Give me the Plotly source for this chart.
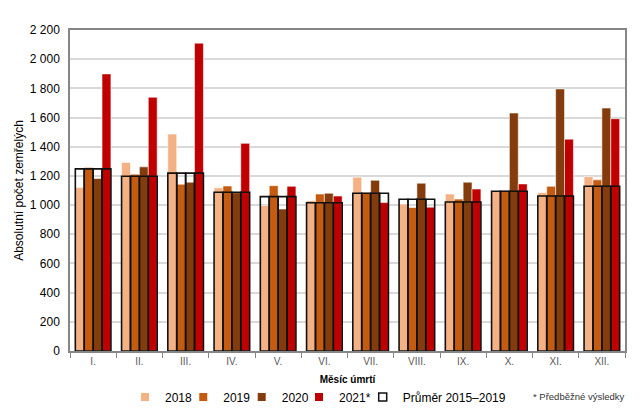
import plotly.graph_objects as go

months = ["I.", "II.", "III.", "IV.", "V.", "VI.", "VII.", "VIII.", "IX.", "X.", "XI.", "XII."]
v2018 = [1120, 1292, 1487, 1118, 998, 1030, 1191, 1007, 1076, 1095, 1085, 1195]
v2019 = [1258, 1212, 1143, 1131, 1133, 1076, 1085, 984, 1041, 1100, 1129, 1173]
v2020 = [1182, 1262, 1157, 1085, 973, 1081, 1170, 1150, 1157, 1631, 1796, 1665]
v2021 = [1899, 1739, 2110, 1423, 1129, 1062, 1017, 986, 1110, 1145, 1452, 1592]
avg_2015_2019 = [1248, 1198, 1219, 1088, 1058, 1016, 1081, 1040, 1021, 1095, 1062, 1129]

series_names = ["2018", "2019", "2020", "2021*"]
avg_name = "Průměr 2015–2019"
y_ticks = [0, 200, 400, 600, 800, 1000, 1200, 1400, 1600, 1800, 2000, 2200]
y_tick_labels = ["0", "200", "400", "600", "800", "1 000", "1 200", "1 400",
                 "1 600", "1 800", "2 000", "2 200"]
x_title = "Měsíc úmrtí"
y_title = "Absolutní počet zemřelých"
footnote = "* Předběžné výsledky"

colors = ["#F4B183", "#C55A11", "#843C0C", "#C00000"]
FONT = "Liberation Sans, Arial, sans-serif"

bar_w = 0.1925
offsets = [-0.385, -0.1925, 0.0, 0.1925]
legend_ids = ["legend", "legend2", "legend3", "legend4", "legend5"]
legend_x = [0.0991, 0.2041, 0.3094, 0.4126, 0.5274]

fig = go.Figure()
for name, vals, col, off in zip(series_names, [v2018, v2019, v2020, v2021], colors, offsets):
    fig.add_trace(go.Bar(
        x=months, y=vals, name=name, width=bar_w, offset=off,
        marker=dict(color=col, line=dict(color="rgba(255,255,255,0.55)", width=1)),
        showlegend=False, legendgroup=name,
    ))

for off in offsets:
    fig.add_trace(go.Bar(
        x=months, y=avg_2015_2019, name=avg_name, width=bar_w, offset=off,
        marker=dict(color="rgba(0,0,0,0)", line=dict(color="#111111", width=1.6)),
        showlegend=False, legendgroup=avg_name,
    ))

# legend entries (one small legend per entry, to place them like the original)
for name, col, lid in zip(series_names, colors, legend_ids[:4]):
    fig.add_trace(go.Scatter(
        x=[None], y=[None], mode="markers", name=name, legendgroup=name, legend=lid,
        marker=dict(symbol="square", size=8, color=col, line=dict(width=0)),
    ))
fig.add_trace(go.Scatter(
    x=[None], y=[None], mode="markers", name=avg_name, legendgroup=avg_name, legend=legend_ids[4],
    marker=dict(symbol="square", size=8, color="white", line=dict(color="#111111", width=1.5)),
))

legend_style = dict(
    orientation="h", xanchor="left", y=-0.1433, yanchor="middle",
    font=dict(size=12, color="#000000", family=FONT),
    bgcolor="rgba(0,0,0,0)", borderwidth=0, itemclick=False, itemdoubleclick=False,
)
legends = {lid: dict(legend_style, x=lx) for lid, lx in zip(legend_ids, legend_x)}

fig.update_layout(
    width=626, height=400,
    margin=dict(l=62, r=9, t=22, b=57, autoexpand=False),
    paper_bgcolor="white", plot_bgcolor="white",
    barmode="overlay",
    font=dict(family=FONT, size=12, color="#000000"),
    showlegend=True,
    annotations=[dict(
        text=footnote, xref="paper", yref="paper", x=1.0036, y=-0.1433,
        xanchor="right", yanchor="middle", showarrow=False,
        font=dict(size=9.5, color="#333333", family=FONT),
    )],
    **legends,
)

fig.update_xaxes(
    type="category", range=[-0.5, 11.5],
    showline=True, linecolor="#868686", linewidth=1.5, mirror=True,
    ticks="outside", tickson="boundaries", ticklen=5, tickcolor="#868686", tickwidth=1,
    tickfont=dict(size=10, color="#595959"),
    showgrid=False, zeroline=False,
    title=dict(text="<b>" + x_title + "</b>", font=dict(size=10, color="#000000"), standoff=10),
)
fig.update_yaxes(
    range=[0, 2200], tickvals=y_ticks, ticktext=y_tick_labels,
    showline=True, linecolor="#868686", linewidth=1.5, mirror=True,
    gridcolor="#D9D9D9", gridwidth=1.5, zeroline=False,
    ticks="", ticklabelstandoff=6,
    tickfont=dict(size=12, color="#000000"),
    title=dict(text=y_title, font=dict(size=12, color="#000000"), standoff=4),
)

fig.write_html("out.html")
